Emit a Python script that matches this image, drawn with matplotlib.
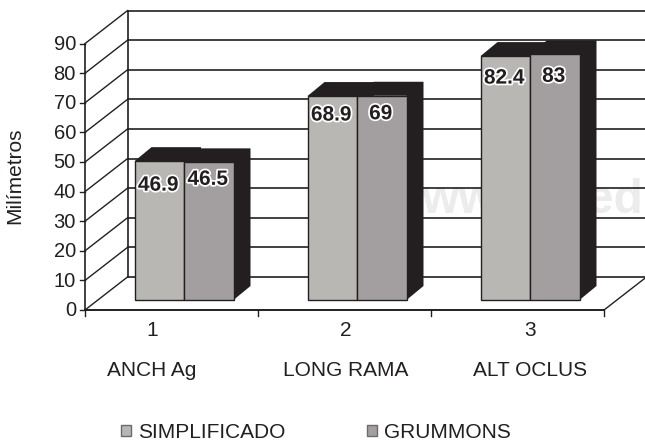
import matplotlib.pyplot as plt
from matplotlib.transforms import Affine2D
import matplotlib.patheffects as pe

plt.rcParams['font.family'] = ['Liberation Sans', 'DejaVu Sans']

categories = ['ANCH Ag', 'LONG RAMA', 'ALT OCLUS']
cat_numbers = ['1', '2', '3']
series_names = ['SIMPLIFICADO', 'GRUMMONS']
simplificado = [46.9, 68.9, 82.4]
grummons = [46.5, 69, 83]
y_ticks = [0, 10, 20, 30, 40, 50, 60, 70, 80, 90]

W, H = 645, 442
INK = '#231f20'
BAR_COLORS = ['#b9b7b4', '#a39fa0']
PX_X = 173.0  # pixels per category
PX_Y = 2.96   # pixels per unit
X0, Y0 = 85, 310  # front corner of the axis, pixels from top left

fig = plt.figure(figsize=(W / 100, H / 100), dpi=100)
ax = fig.add_axes([0, 0, 1, 1])
ax.set_xlim(-0.5 - X0 / PX_X, -0.5 + (W - X0) / PX_X)
ax.set_ylim(-(H - Y0) / PX_Y, Y0 / PX_Y)
ax.axis('off')
pix = Affine2D().scale(1, -1).translate(0, H)  # pixel coords for text


def ox(p):
    return p / PX_X


def oy(p):
    return p / PX_Y


# depth of the walls and of the bars, in pixels
wall_dx, wall_dy = ox(42.5), oy(33)
bar_dx, bar_dy = ox(12.5), oy(10)
side_dx, side_dy = ox(17), oy(14)
bar_w = 49.5 / PX_X

# watermark behind everything
ax.text(421, 213, 'www.med', transform=pix, fontsize=34.5, fontweight='bold',
        color='#ececec', ha='left', va='baseline', zorder=0)

# back wall and side wall
x_l, x_r = -0.5, 2.5
for i, t in enumerate(y_ticks):
    ax.plot([x_l + wall_dx, x_r + wall_dx + 1], [t + wall_dy, t + wall_dy], color=INK, lw=1.2, zorder=1)
    ax.plot([x_l, x_l + wall_dx], [t, t + wall_dy], color=INK, lw=1.0, zorder=1)
    ax.plot([x_l - ox(5), x_l], [t, t], color=INK, lw=1.0, zorder=1)
    ax.text(76, Y0 - t * PX_Y + 1, str(t), transform=pix, fontsize=14.5, color=INK, ha='right', va='center')
ax.plot([x_l, x_l], [0, y_ticks[-1]], color=INK, lw=1.2, zorder=1)
ax.plot([x_l + wall_dx, x_l + wall_dx], [wall_dy, y_ticks[-1] + wall_dy], color=INK, lw=1.2, zorder=1)

# floor
ax.plot([x_l, x_r], [0, 0], color=INK, lw=1.4, zorder=1)
ax.plot([x_r, x_r + wall_dx], [0, wall_dy], color=INK, lw=1.0, zorder=1)
for k in range(4):
    ax.plot([x_l + k, x_l + k], [0, -oy(6)], color=INK, lw=1.0, zorder=1)

# bars with their dark sides
for j, vals in enumerate([simplificado, grummons]):
    xs = [i + bar_dx + (j - 0.5) * bar_w for i in range(len(vals))]
    for x, v in zip(xs, vals):
        l, r = x - bar_w / 2, x + bar_w / 2
        top = v + bar_dy
        ax.fill([l, l + side_dx, r + side_dx, r + side_dx, r, r, l],
                [top, top + side_dy, top + side_dy, bar_dy + side_dy, bar_dy, top, top],
                color=INK, lw=0, zorder=2 + j)
    ax.bar(xs, vals, bar_w, bottom=bar_dy, color=BAR_COLORS[j], edgecolor=INK, lw=1.0,
           zorder=4, label=series_names[j])

# value labels
label_off = [[24, 19, 22], [17, 18, 22]]
halo = [pe.withStroke(linewidth=2.5, foreground='white')]
for j, vals in enumerate([simplificado, grummons]):
    for i, v in enumerate(vals):
        x = i + bar_dx + (j - 0.5) * bar_w
        ax.text(x - ox(1), v + bar_dy - oy(label_off[j][i]), str(v), fontsize=15, fontweight='bold',
                color=INK, ha='center', va='center', zorder=5, path_effects=halo)

# axis texts
ax.text(15, 176, 'Milímetros', transform=pix, rotation=90, fontsize=15, color=INK, ha='center', va='center')
num_x = [152, 346, 530]
for i in range(3):
    ax.text(num_x[i], 331, cat_numbers[i], transform=pix, fontsize=15, color=INK, ha='center', va='center')
    ax.text(num_x[i], 371, categories[i], transform=pix, fontsize=15, color=INK, ha='center', va='center')

leg = ax.legend(loc='center left', bbox_to_anchor=(120.5, 432.5), bbox_transform=pix, ncol=2, frameon=False,
                fontsize=15, handlelength=0.48, handleheight=0.48, handletextpad=0.36, columnspacing=3.9,
                borderpad=0, borderaxespad=0, labelcolor=INK)
for h in leg.legend_handles:
    h.set_edgecolor('#6d6a6b')

fig.savefig('out.png', dpi=100)
